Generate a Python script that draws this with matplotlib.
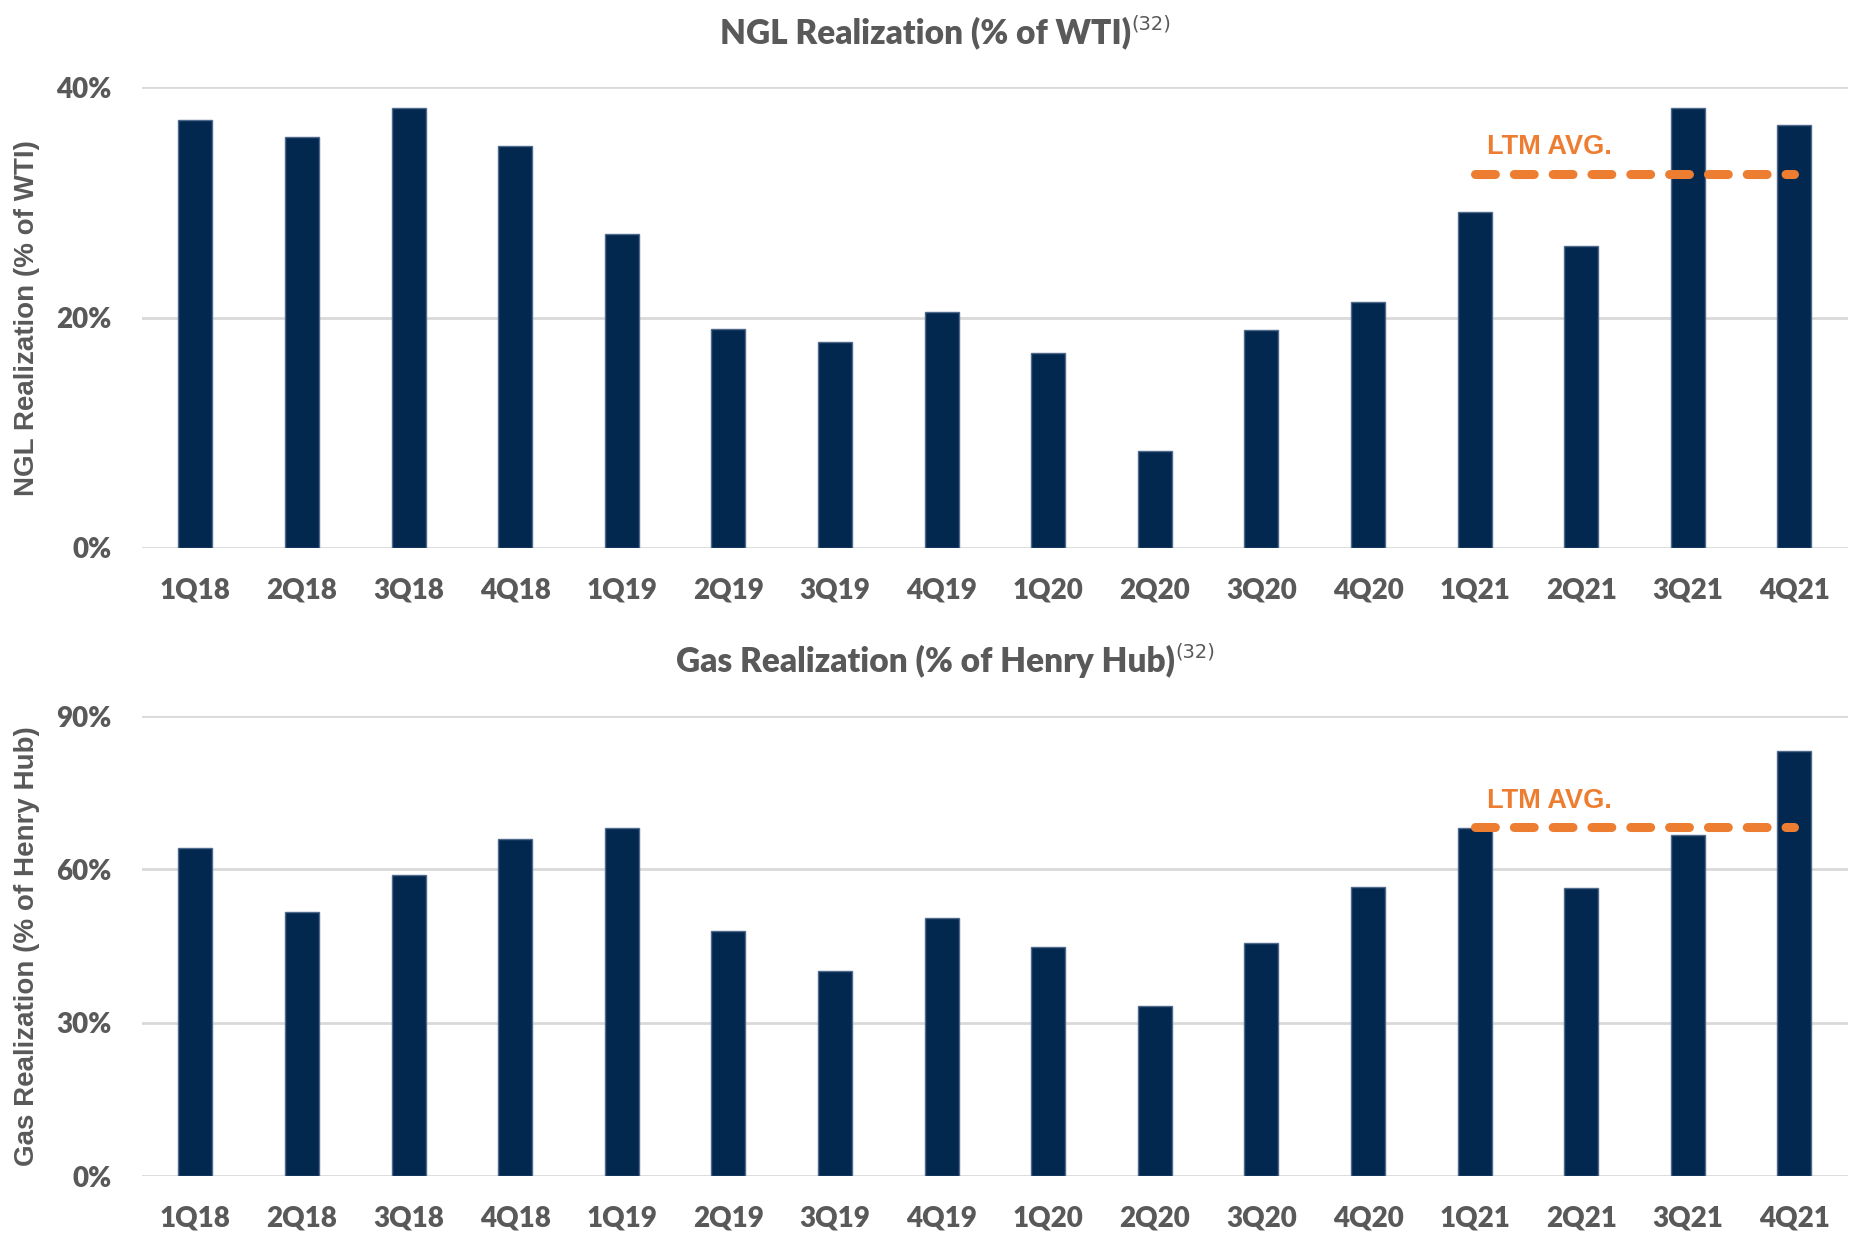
import matplotlib
matplotlib.use("Agg")
import matplotlib.pyplot as plt
import numpy as np

# quarters shared by both panels
quarters = ["1Q18", "2Q18", "3Q18", "4Q18", "1Q19", "2Q19", "3Q19", "4Q19",
            "1Q20", "2Q20", "3Q20", "4Q20", "1Q21", "2Q21", "3Q21", "4Q21"]

# NGL realization, % of WTI
ngl_pct = [37.2, 35.7, 38.2, 34.9, 27.3, 19.0, 17.9, 20.5,
           16.9, 8.4, 18.9, 21.4, 29.2, 26.2, 38.2, 36.7]
ngl_ltm = 32.5

# Gas realization, % of Henry Hub
gas_pct = [64.2, 51.7, 58.8, 66.0, 68.1, 48.0, 40.2, 50.5,
           44.8, 33.2, 45.5, 56.5, 68.1, 56.3, 66.7, 83.1]
gas_ltm = 68.3

ngl_ticks = [0, 20, 40]
gas_ticks = [0, 30, 60, 90]

NAVY = "#02284f"
ORANGE = "#ed7d31"
GREY = "#595959"
GRID = "#d9d9d9"

AX_LEFT, AX_WIDTH = 0.0767, 0.921


def draw_panel(ax, values, ltm, ticks, title, ylabel):
    x = np.arange(len(quarters))
    ax.bar(x, values, width=0.32, color=NAVY, edgecolor="#4f6a8c", linewidth=1, zorder=3)

    # LTM average over last four quarters
    ax.plot([12, 15], [ltm, ltm], color=ORANGE, linewidth=6.5, dashes=(2.2, 2.1),
            dash_capstyle="round", solid_capstyle="round", zorder=4)
    ax.annotate("LTM AVG.", xy=(12.12, ltm), xytext=(0, 19), textcoords="offset points",
                ha="left", va="center", color=ORANGE, fontsize=19.5, fontweight="bold",
                family="Liberation Sans")

    ax.set_xlim(-0.5, 15.5)
    ax.set_ylim(0, ticks[-1])
    ax.set_yticks(ticks)
    ax.set_yticklabels([f"{t}%" for t in ticks])
    ax.set_xticks(x)
    ax.set_xticklabels(quarters)
    ax.yaxis.grid(True, color=GRID, linewidth=2, zorder=0)
    ax.set_axisbelow(True)
    for s in ax.spines.values():
        s.set_visible(False)
    ax.tick_params(axis="both", length=0, labelsize=20, labelcolor=GREY)
    ax.tick_params(axis="y", pad=22)
    ax.tick_params(axis="x", pad=21)
    for lab in ax.get_xticklabels() + ax.get_yticklabels():
        lab.set_family("Lato")
        lab.set_fontweight("heavy")

    ax.set_ylabel(ylabel, fontsize=20, fontweight="bold", color=GREY,
                  family="Liberation Sans")
    ax.yaxis.set_label_coords(-0.060, 0.5)
    # title is centred on the figure, not the axes
    t = ax.set_title(title, fontsize=24, fontweight="heavy", color=GREY,
                     family="Lato", pad=32, x=(0.5 - AX_LEFT) / AX_WIDTH)
    ax.annotate("(32)", xy=(1, 1.05), xycoords=t, ha="left", va="top",
                fontsize=14, color=GREY, family="Liberation Sans Narrow")


fig = plt.figure(figsize=(18.52, 12.33), dpi=100)
ax1 = fig.add_axes([AX_LEFT, 0.5556, AX_WIDTH, 0.3735])
ax2 = fig.add_axes([AX_LEFT, 0.0462, AX_WIDTH, 0.3731])

draw_panel(ax1, ngl_pct, ngl_ltm, ngl_ticks,
           "NGL Realization (% of WTI)", "NGL Realization (% of WTI)")
draw_panel(ax2, gas_pct, gas_ltm, gas_ticks,
           "Gas Realization (% of Henry Hub)", "Gas Realization (% of Henry Hub)")

fig.savefig("out.png", dpi=100, facecolor="white")
